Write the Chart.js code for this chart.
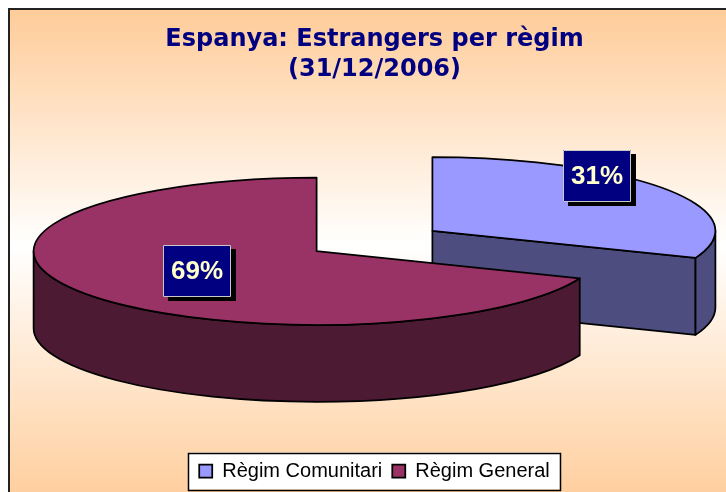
<!DOCTYPE html>
<html><head><meta charset="utf-8">
<script src="https://cdn.jsdelivr.net/npm/chart.js@4"></script>
<style>
html,body{margin:0;padding:0;background:#fff;overflow:hidden;width:726px;height:492px}
#frame{position:absolute;left:8px;top:8px;width:740px;height:500px;border-top:2px solid #222;border-left:2px solid #222;
background:linear-gradient(to bottom,#FFCC99 0%,#FFFFFF 47%,#FFCC99 100%);}
#c{position:absolute;left:0;top:0;}
</style></head><body>
<div id="frame"><canvas id="c" width="726" height="482"></canvas></div>
<script>
const categories = ['Règim Comunitari', 'Règim General'];
const values = [31, 69];
const topColors = ['#9999FF', '#993366'];
const titleLines = ['Espanya: Estrangers per règim', '(31/12/2006)'];

function darken(hex, f) {
  const n = parseInt(hex.slice(1), 16);
  const r = Math.round(((n >> 16) & 255) * f), g = Math.round(((n >> 8) & 255) * f), b = Math.round((n & 255) * f);
  return 'rgb(' + r + ',' + g + ',' + b + ')';
}

const legendFrame = {
  id: 'legendFrame',
  beforeDraw(chart, args, opts) {
    const lg = chart.legend; const hb = lg && lg.legendHitBoxes;
    if (!hb || !hb.length) return;
    const l = Math.min(...hb.map(h => h.left)) - opts.padLeft;
    const r = Math.max(...hb.map(h => h.left + h.width)) + opts.padRight;
    const cyv = hb[0].top + hb[0].height / 2;
    const t = cyv - opts.halfHeight, b = cyv + opts.halfHeight;
    const ctx = chart.ctx;
    ctx.save();
    ctx.fillStyle = '#FFFFFF';
    ctx.fillRect(l, t, r - l, b - t);
    ctx.lineWidth = 1.5; ctx.strokeStyle = '#000';
    ctx.strokeRect(Math.round(l) + 0.5, Math.round(t) + 0.5, Math.round(r - l), Math.round(b - t));
    ctx.restore();
  }
};

const pie3d = {
  id: 'pie3d',
  beforeDatasetsDraw(chart, args, opts) {
    const ctx = chart.ctx;
    const arcs = chart.getDatasetMeta(0).data;
    const tilt = opts.tilt, depth = opts.depth;
    const total = values.reduce((a, b) => a + b, 0);
    const items = arcs.map((arc, i) => {
      const p = arc.getProps(['x', 'y', 'startAngle', 'endAngle', 'outerRadius'], true);
      const mid = (p.startAngle + p.endAngle) / 2;
      const off = arc.options.offset || 0;
      return { i, p, mid, o: arc.options,
        cx: p.x + Math.cos(mid) * off,
        cy: p.y - depth / 2 + Math.sin(mid) * off * tilt,
        rx: p.outerRadius, ry: p.outerRadius * tilt };
    });
    const order = items.slice().sort((a, b) => Math.sin(a.mid) - Math.sin(b.mid));
    ctx.save();
    ctx.lineJoin = 'round';
    for (const it of order) {
      const { cx, cy, rx, ry, o } = it;
      const a0 = it.p.startAngle, a1 = it.p.endAngle;
      const topC = o.backgroundColor, sideC = darken(topC, 0.5);
      ctx.lineWidth = o.borderWidth; ctx.strokeStyle = o.borderColor;
      const faces = [];
      if (Math.cos(a1) > 1e-6) faces.push(a1);
      if (Math.cos(a0) < -1e-6) faces.push(a0);
      for (const a of faces) {
        const x = cx + rx * Math.cos(a), y = cy + ry * Math.sin(a);
        ctx.beginPath();
        ctx.moveTo(cx, cy); ctx.lineTo(x, y); ctx.lineTo(x, y + depth); ctx.lineTo(cx, cy + depth); ctx.closePath();
        ctx.fillStyle = sideC; ctx.fill(); ctx.stroke();
      }
      for (let k = -1; k <= 1; k++) {
        const s = Math.max(a0, k * 2 * Math.PI), e = Math.min(a1, k * 2 * Math.PI + Math.PI);
        if (e > s) {
          ctx.beginPath();
          ctx.ellipse(cx, cy, rx, ry, 0, s, e, false);
          ctx.ellipse(cx, cy + depth, rx, ry, 0, e, s, true);
          ctx.closePath();
          ctx.fillStyle = sideC; ctx.fill(); ctx.stroke();
        }
      }
      ctx.beginPath();
      ctx.moveTo(cx, cy);
      ctx.ellipse(cx, cy, rx, ry, 0, a0, a1, false);
      ctx.closePath();
      ctx.fillStyle = topC; ctx.fill(); ctx.stroke();
    }
    // data labels
    ctx.font = 'bold 26px "Liberation Sans", Arial, sans-serif';
    ctx.textAlign = 'center'; ctx.textBaseline = 'middle';
    for (const it of items) {
      const f = opts.labelPos[it.i];
      const x = it.cx + f[0] * it.rx * Math.cos(it.mid);
      const y = it.cy + f[1] * it.ry * Math.sin(it.mid);
      const txt = Math.round(values[it.i] / total * 100) + '%';
      const w = Math.round(ctx.measureText(txt).width + 2 * opts.labelPadX), h = opts.labelHeight;
      const bx = Math.round(x - w / 2), by = Math.round(y - h / 2);
      ctx.fillStyle = '#000'; ctx.fillRect(bx + 5, by + 4, w, h);
      ctx.fillStyle = '#000080'; ctx.fillRect(bx, by, w, h);
      ctx.lineWidth = 1; ctx.strokeStyle = '#C8C8C8'; ctx.strokeRect(bx + 0.5, by + 0.5, w - 1, h - 1);
      ctx.fillStyle = '#FFFFCC'; ctx.fillText(txt, bx + w / 2, by + h / 2 + 1);
    }
    ctx.restore();
    return false;
  }
};

new Chart(document.getElementById('c'), {
  type: 'pie',
  data: {
    labels: categories,
    datasets: [{
      data: values,
      backgroundColor: topColors,
      borderColor: '#000',
      borderWidth: 1.75,
      offset: 70,
      hoverOffset: 0,
      radius: 283
    }]
  },
  options: {
    responsive: false,
    animation: false,
    events: [],
    layout: { padding: { left: 3, bottom: 1 } },
    plugins: {
      tooltip: { enabled: false },
      title: {
        display: true, text: titleLines, color: '#000080',
        font: { family: '"DejaVu Sans", Verdana, sans-serif', size: 24, weight: 'bold', lineHeight: 1.25 },
        padding: { top: 15, bottom: 23 }
      },
      legend: {
        position: 'bottom',
        labels: {
          color: '#000', boxWidth: 13, boxHeight: 13, padding: 10,
          font: { family: '"Liberation Sans", Arial, sans-serif', size: 20 }
        }
      },
      legendFrame: { padLeft: 11, padRight: 10, halfHeight: 18.5 },
      pie3d: { tilt: 0.26, depth: 77, labelPos: [[0.705, 1.33], [0.51, 0.48]], labelPadX: 8, labelHeight: 52 }
    }
  },
  plugins: [legendFrame, pie3d]
});
</script>
</body></html>
